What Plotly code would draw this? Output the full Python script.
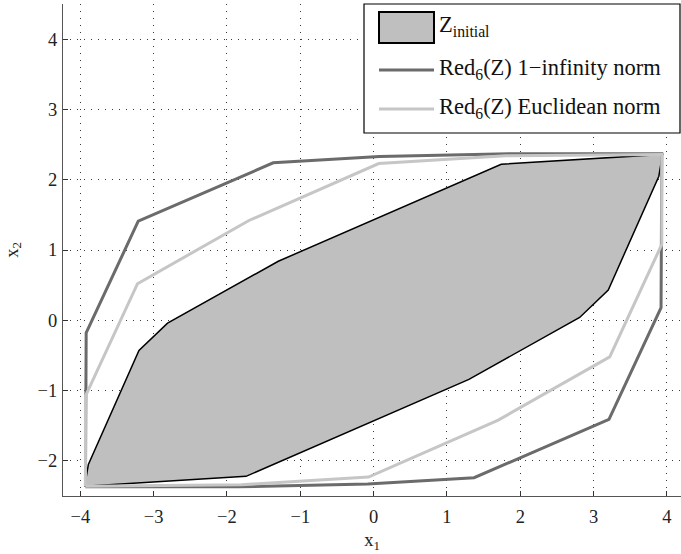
import plotly.graph_objects as go

# ---- data ----
zinit_x = [-3.94, -3.89, -3.20, -2.81, -1.30, 1.74, 3.94, 3.89, 3.20, 2.81, 1.30, -1.74, -3.94]
zinit_y = [-2.36, -2.05, -0.43, -0.04, 0.84, 2.22, 2.36, 2.05, 0.43, 0.04, -0.84, -2.22, -2.36]

inf_x = [-3.93, -3.92, -3.21, -1.37, 0.08, 1.85, 3.93, 3.92, 3.21, 1.37, -0.08, -1.85, -3.93]
inf_y = [-2.37, -0.18, 1.41, 2.24, 2.33, 2.37, 2.37, 0.18, -1.41, -2.24, -2.33, -2.37, -2.37]

euc_x = [-3.93, -3.93, -3.22, -1.70, 0.07, 1.80, 3.93, 3.93, 3.22, 1.70, -0.07, -1.80, -3.93]
euc_y = [-2.36, -1.08, 0.52, 1.42, 2.23, 2.34, 2.36, 1.08, -0.52, -1.42, -2.23, -2.34, -2.36]

x_ticks = [-4, -3, -2, -1, 0, 1, 2, 3, 4]
y_ticks = [-2, -1, 0, 1, 2, 3, 4]

legend_names = ["Z<sub>initial</sub>",
                "Red<sub>6</sub>(Z) 1\u2212infinity norm",
                "Red<sub>6</sub>(Z) Euclidean norm"]

FILL = "#bfbfbf"
DARK = "#6b6b6b"
LIGHT = "#c6c6c6"
FONT = "Liberation Serif"

W, H = 681, 554
ML, MR, MT, MB = 63, 0, 4, 58
PW, PH = W - ML - MR, H - MT - MB


def px(xp):
    return (xp - ML) / PW


def py(yp):
    return (H - MB - yp) / PH


fig = go.Figure()
fig.add_trace(go.Scatter(x=zinit_x, y=zinit_y, mode="lines", fill="toself",
                         fillcolor=FILL, line=dict(color="black", width=1.5),
                         name=legend_names[0], showlegend=False, hoverinfo="skip"))
fig.add_trace(go.Scatter(x=inf_x, y=inf_y, mode="lines",
                         line=dict(color=DARK, width=3),
                         name=legend_names[1], showlegend=False, hoverinfo="skip"))
fig.add_trace(go.Scatter(x=euc_x, y=euc_y, mode="lines",
                         line=dict(color=LIGHT, width=3),
                         name=legend_names[2], showlegend=False, hoverinfo="skip"))

# manual legend (box, symbols, texts)
shapes = [
    dict(type="rect", xref="paper", yref="paper", x0=px(364), x1=px(680), y0=py(133), y1=py(4),
         fillcolor="white", line=dict(color="black", width=1.2), layer="above"),
    dict(type="rect", xref="paper", yref="paper", x0=px(379), x1=px(434), y0=py(43), y1=py(12),
         fillcolor=FILL, line=dict(color="black", width=2), layer="above"),
    dict(type="line", xref="paper", yref="paper", x0=px(379), x1=px(434), y0=py(70), y1=py(70),
         line=dict(color=DARK, width=3), layer="above"),
    dict(type="line", xref="paper", yref="paper", x0=px(379), x1=px(434), y0=py(109), y1=py(109),
         line=dict(color=LIGHT, width=3), layer="above"),
]
annotations = []
for name, yc in zip(legend_names, [26, 69, 108]):
    annotations.append(dict(text=name, xref="paper", yref="paper", x=px(437), y=py(yc),
                            xanchor="left", yanchor="middle", showarrow=False,
                            font=dict(family=FONT, size=22.5, color="#111")))

axis_common = dict(
    showgrid=True, gridcolor="#3a3a3a", gridwidth=1, griddash="1px,6px",
    zeroline=False, showline=True, linecolor="#555", linewidth=1.2,
    ticks="inside", ticklen=5, tickcolor="#333",
    tickfont=dict(family=FONT, size=18.5, color="#222"),
    mirror=False,
)

fig.update_layout(
    width=W, height=H,
    margin=dict(l=ML, r=MR, t=MT, b=MB),
    paper_bgcolor="white", plot_bgcolor="white",
    xaxis=dict(range=[-4.236, 4.192], tickvals=x_ticks, ticklabelstandoff=4,
               title=dict(text="x<sub>1</sub>", font=dict(family=FONT, size=18.5, color="#222"), standoff=6),
               **axis_common),
    yaxis=dict(range=[-2.5, 4.5], tickvals=y_ticks, ticklabelstandoff=1,
               title=dict(text="x<sub>2</sub>", font=dict(family=FONT, size=18.5, color="#222"), standoff=14),
               **axis_common),
    shapes=shapes, annotations=annotations,
    showlegend=False,
)

fig.write_html("out.html")
